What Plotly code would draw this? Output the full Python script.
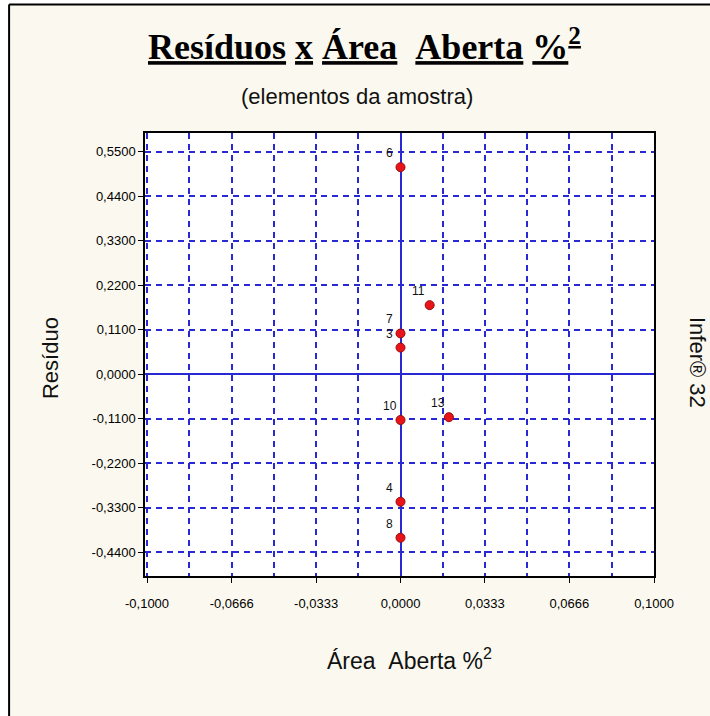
import plotly.graph_objects as go

# Sample elements: residual vs open area %^2
labels = ["6", "11", "7", "3", "10", "13", "4", "8"]
area_aberta = [0.0, 0.0115, 0.0, 0.0, 0.0, 0.0191, 0.0, 0.0]
residuo = [0.512, 0.171, 0.101, 0.066, -0.113, -0.106, -0.315, -0.404]

x_tickvals = [-0.1, -0.0666, -0.0333, 0.0, 0.0333, 0.0666, 0.1]
x_ticktext = ["-0,1000", "-0,0666", "-0,0333", "0,0000", "0,0333", "0,0666", "0,1000"]
x_minorvals = [-0.0833, -0.05, -0.0167, 0.0167, 0.05, 0.0833]
y_tickvals = [0.55, 0.44, 0.33, 0.22, 0.11, 0.0, -0.11, -0.22, -0.33, -0.44]
y_ticktext = ["0,5500", "0,4400", "0,3300", "0,2200", "0,1100", "0,0000",
              "-0,1100", "-0,2200", "-0,3300", "-0,4400"]

GRID = "#2828D4"
CREAM = "#FBF9EF"
SANS = "Liberation Sans, Arial, sans-serif"
NB = "\u00a0"

fig = go.Figure()
fig.add_trace(go.Scatter(
    x=area_aberta, y=residuo, mode="markers",
    marker=dict(size=9, color="#E8141A", line=dict(color="#9A0A0A", width=1)),
    hoverinfo="skip", showlegend=False,
))

annotations = []
for lab, xv, yv in zip(labels, area_aberta, residuo):
    annotations.append(dict(
        x=xv, y=yv, xref="x", yref="y", text=lab, showarrow=False,
        xshift=-11, yshift=14, font=dict(family=SANS, size=12, color="#111111"),
    ))

title_txt = ("<b><u>Resíduos</u> <u>x</u> <u>Área</u>" + NB + NB +
             "<u>Aberta</u> <u>%<sup>2</sup></u></b>")
annotations += [
    dict(x=0.432, y=1.199, xref="paper", yref="paper", text=title_txt,
         showarrow=False, xanchor="center", yanchor="middle",
         font=dict(family="Liberation Serif, Times New Roman, serif", size=36, color="#000000")),
    dict(x=0.4165, y=1.0813, xref="paper", yref="paper", text="(elementos da amostra)",
         showarrow=False, xanchor="center", yanchor="middle",
         font=dict(family=SANS, size=22, color="#111111")),
    dict(x=0.5206, y=-0.187, xref="paper", yref="paper",
         text="Área" + NB + NB + "Aberta %<sup>2</sup>",
         showarrow=False, xanchor="center", yanchor="middle",
         font=dict(family=SANS, size=23, color="#111111")),
    dict(x=-0.1866, y=0.492, xref="paper", yref="paper", text="Resíduo",
         showarrow=False, textangle=-90, xanchor="center", yanchor="middle",
         font=dict(family=SANS, size=22, color="#111111")),
    dict(x=1.0865, y=0.483, xref="paper", yref="paper", text="Infer® 32",
         showarrow=False, textangle=90, xanchor="center", yanchor="middle",
         font=dict(family=SANS, size=22, color="#111111")),
]

shapes = [
    # cream panel behind the chart, framed on top and left
    dict(type="rect", xref="paper", yref="paper", x0=-0.267, x1=1.2, y0=-0.4, y1=1.290,
         fillcolor=CREAM, line=dict(width=0), layer="below"),
    # white plotting area
    dict(type="rect", xref="paper", yref="paper", x0=0, x1=1, y0=0, y1=1,
         fillcolor="#FFFFFF", line=dict(width=0), layer="below"),
    dict(type="line", xref="paper", yref="paper", x0=-0.267, x1=1.2, y0=1.290, y1=1.290,
         line=dict(color="#000000", width=2)),
    dict(type="line", xref="paper", yref="paper", x0=-0.267, x1=-0.267, y0=-0.4, y1=1.290,
         line=dict(color="#000000", width=2)),
]

fig.update_layout(
    width=710, height=716,
    margin=dict(l=145, r=56, t=133, b=140),
    paper_bgcolor="#FFFFFF",
    plot_bgcolor="#FFFFFF",
    annotations=annotations,
    shapes=shapes,
    showlegend=False,
)

fig.update_xaxes(
    range=[-0.1008, 0.1], tickvals=x_tickvals, ticktext=x_ticktext,
    showline=True, mirror=True, linecolor="#000000", linewidth=1.5,
    ticks="outside", ticklen=5, tickcolor="#000000", ticklabelstandoff=10,
    tickfont=dict(family=SANS, size=13, color="#000000"),
    showgrid=True, gridcolor=GRID, gridwidth=1.6, griddash="6px,5px",
    minor=dict(tickmode="array", tickvals=x_minorvals, showgrid=True,
               gridcolor=GRID, gridwidth=1.6, griddash="6px,5px"),
    zeroline=True, zerolinecolor=GRID, zerolinewidth=1.6,
)
fig.update_yaxes(
    range=[-0.4986, 0.5965], tickvals=y_tickvals, ticktext=y_ticktext,
    showline=True, mirror=True, linecolor="#000000", linewidth=1.5,
    ticks="outside", ticklen=5, tickcolor="#000000",
    tickfont=dict(family=SANS, size=13, color="#000000"),
    showgrid=True, gridcolor=GRID, gridwidth=1.6, griddash="6px,5px",
    zeroline=True, zerolinecolor=GRID, zerolinewidth=1.6,
)

fig.write_html("out.html")
